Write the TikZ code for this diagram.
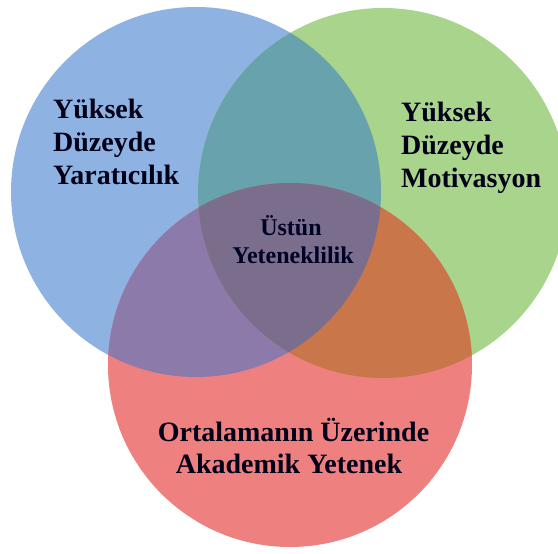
\documentclass[tikz,border=0pt]{standalone}
\usepackage{fontspec}
\setmainfont{Liberation Serif}
\begin{document}
\begin{tikzpicture}[x=1pt,y=-1pt,
  lbl/.style={inner sep=0pt,font=\bfseries\fontsize{28}{33}\selectfont,text=black!90!blue},
  lblsmall/.style={inner sep=0pt,font=\bfseries\fontsize{24}{28}\selectfont,text=black!85!blue}]
\definecolor{cblue}{RGB}{142,179,226}
\definecolor{cgreen}{RGB}{168,212,140}
\definecolor{cred}{RGB}{238,128,128}
\definecolor{cteal}{RGB}{104,162,172}
\definecolor{cpurple}{RGB}{139,122,170}
\definecolor{corange}{RGB}{200,118,74}
\definecolor{ccenter}{RGB}{123,110,140}
\useasboundingbox (0,0) rectangle (558,554);
\clip (0,0) rectangle (558,554);
\fill[white] (0,0) rectangle (558,554);
% circle centres and radii
\def\blueC{(196,192) circle[radius=185]}
\def\greenC{(383,193) circle[radius=185]}
\def\redC{(290,365) circle[radius=182]}
% single sets
\fill[cblue] \blueC;
\fill[cgreen] \greenC;
\fill[cred] \redC;
% pairwise overlaps
\begin{scope}
  \clip \blueC;
  \fill[cteal] \greenC;
  \fill[cpurple] \redC;
\end{scope}
\begin{scope}
  \clip \greenC;
  \fill[corange] \redC;
\end{scope}
% triple overlap
\begin{scope}
  \clip \blueC;
  \clip \greenC;
  \fill[ccenter] \redC;
\end{scope}
% labels
\node[lbl,anchor=base west] (l1) at (53,118) {Yüksek};
\node[lbl,anchor=base west] (l2) at (53,151) {Düzeyde};
\node[lbl,anchor=base west] (l3) at (53,184) {Yaratıcılık};
\node[lbl,anchor=base west] (r1) at (401,121) {Yüksek};
\node[lbl,anchor=base west] (r2) at (401,154) {Düzeyde};
\node[lbl,anchor=base west] (r3) at (401,187) {Motivasyon};
\node[lblsmall,anchor=base] (c1) at (291,235) {Üstün};
\node[lblsmall,anchor=base] (c2) at (293,263) {Yeteneklilik};
\node[lbl,anchor=base] (b1) at (293.5,441) {Ortalamanın Üzerinde};
\node[lbl,anchor=base] (b2) at (289,473) {Akademik Yetenek};
\end{tikzpicture}
\end{document}
